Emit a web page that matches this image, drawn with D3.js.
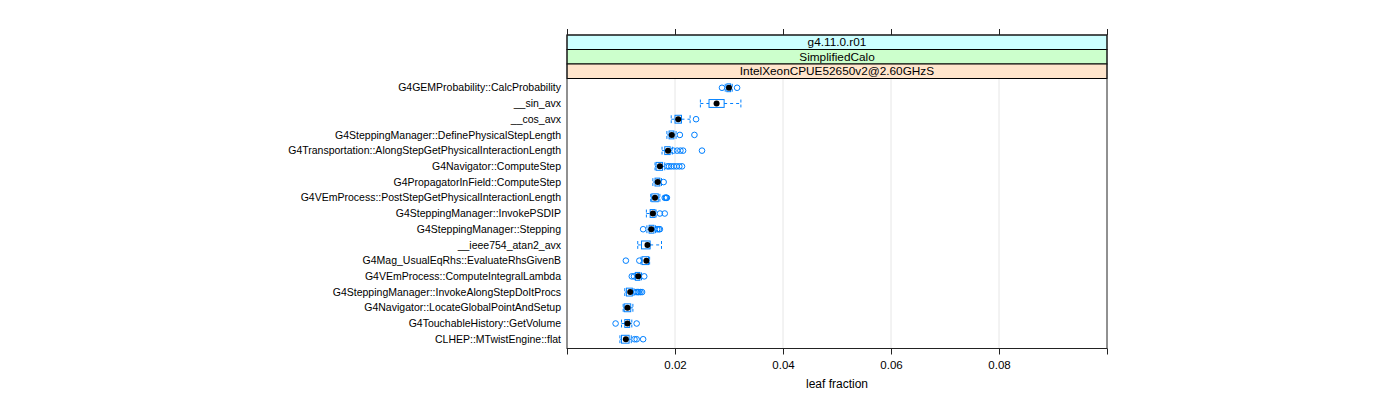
<!DOCTYPE html>
<html>
<head>
<meta charset="utf-8">
<script src="https://cdn.jsdelivr.net/npm/d3@7"></script>
<style>
  html, body { margin: 0; padding: 0; background: #fff; }
  svg { display: block; font-family: "Liberation Sans", Arial, Helvetica, sans-serif; }
</style>
</head>
<body>
<svg id="chart" width="1400" height="400"></svg>
<script>
// ---- data ----
const categories = [
  "G4GEMProbability::CalcProbability",
  "__sin_avx",
  "__cos_avx",
  "G4SteppingManager::DefinePhysicalStepLength",
  "G4Transportation::AlongStepGetPhysicalInteractionLength",
  "G4Navigator::ComputeStep",
  "G4PropagatorInField::ComputeStep",
  "G4VEmProcess::PostStepGetPhysicalInteractionLength",
  "G4SteppingManager::InvokePSDIP",
  "G4SteppingManager::Stepping",
  "__ieee754_atan2_avx",
  "G4Mag_UsualEqRhs::EvaluateRhsGivenB",
  "G4VEmProcess::ComputeIntegralLambda",
  "G4SteppingManager::InvokeAlongStepDoItProcs",
  "G4Navigator::LocateGlobalPointAndSetup",
  "G4TouchableHistory::GetVolume",
  "CLHEP::MTwistEngine::flat"
];
const whiskerLow  = [0.0293, 0.0247, 0.0193, 0.0185, 0.0176, 0.0163, 0.0159, 0.0155, 0.0147, 0.0148, 0.0131, 0.0137, 0.0126, 0.0107, 0.0104, 0.0101, 0.0098];
const q1          = [0.0296, 0.0263, 0.0200, 0.0189, 0.0181, 0.0165, 0.0163, 0.0157, 0.0154, 0.0152, 0.0138, 0.0139, 0.0127, 0.0110, 0.0106, 0.0107, 0.0101];
const medians     = [0.0300, 0.0277, 0.0206, 0.0194, 0.0187, 0.0172, 0.0168, 0.0163, 0.0159, 0.0156, 0.0149, 0.0147, 0.0132, 0.0117, 0.0112, 0.0112, 0.0109];
const q3          = [0.0303, 0.0291, 0.0212, 0.0198, 0.0191, 0.0177, 0.0172, 0.0169, 0.0163, 0.0161, 0.0154, 0.0151, 0.0135, 0.0121, 0.0118, 0.0116, 0.0115];
const whiskerHigh = [0.0306, 0.0322, 0.0228, 0.0202, 0.0195, 0.0181, 0.0175, 0.0172, 0.0165, 0.0164, 0.0175, 0.0153, 0.0138, 0.0124, 0.0122, 0.0120, 0.0119];
const outliers = [
  [0.0287, 0.0315],
  [],
  [0.0239],
  [0.0209, 0.0236],
  [0.0197, 0.0204, 0.0210, 0.0215, 0.0250],
  [0.0186, 0.0189, 0.0193, 0.0198, 0.0203, 0.0208, 0.0213],
  [0.0179],
  [0.0181, 0.0183, 0.0184, 0.0185],
  [0.0172, 0.0181],
  [0.0141, 0.0167, 0.0170, 0.0172],
  [],
  [0.0109, 0.0134],
  [0.0120, 0.0124, 0.0143],
  [0.0128, 0.0131, 0.0133, 0.0136, 0.0139],
  [],
  [0.0090, 0.0129],
  [0.0125, 0.0129, 0.0141]
];
const xTicks = [0.02, 0.04, 0.06, 0.08];
const xDomain = [0, 0.1];
const stripLabels = ["g4.11.0.r01", "SimplifiedCalo", "IntelXeonCPUE52650v2@2.60GHzS"];
const stripColors = ["#ccffff", "#ccffcc", "#ffe5cc"];
const xLabel = "leaf fraction";

// ---- layout ----
const L = 567, R = 1107;
const stripTop = 35, stripH = 14.5;
const panelTop = stripTop + stripH * stripLabels.length;
const panelBottom = 348.5;
const blue = "#0080ff";

const svg = d3.select("#chart");
const x = d3.scaleLinear().domain(xDomain).range([L, R]);
const y = d3.scalePoint().domain(categories).range([panelTop, panelBottom]).padding(0.59);
const boxH = y.step() * 0.5;

// grid lines
svg.append("g").selectAll("line").data(xTicks).join("line")
  .attr("x1", d => x(d)).attr("x2", d => x(d))
  .attr("y1", panelTop).attr("y2", panelBottom)
  .attr("stroke", "#e6e6e6").attr("stroke-width", 1);

// strips
const strips = svg.append("g");
stripLabels.forEach((s, i) => {
  strips.append("rect")
    .attr("x", L).attr("y", stripTop + i * stripH)
    .attr("width", R - L).attr("height", stripH)
    .attr("fill", stripColors[i]).attr("stroke", "#000").attr("stroke-width", 1);
  strips.append("text")
    .attr("x", (L + R) / 2).attr("y", stripTop + i * stripH + stripH / 2)
    .attr("dy", "0.36em").attr("text-anchor", "middle")
    .attr("font-size", 11.8).attr("fill", "#000").text(s);
});

// panel border
svg.append("rect").attr("x", L).attr("y", stripTop)
  .attr("width", R - L).attr("height", panelBottom - stripTop)
  .attr("fill", "none").attr("stroke", "#222").attr("stroke-width", 1);

// bottom axis
const bottomAxis = d3.axisBottom(x).tickValues([xDomain[0]].concat(xTicks, [xDomain[1]]))
  .tickSize(6).tickPadding(6)
  .tickFormat(d => xTicks.includes(d) ? d3.format(".2f")(d) : "");
const gb = svg.append("g").attr("transform", `translate(0,${panelBottom})`).call(bottomAxis);
gb.select(".domain").remove();
gb.selectAll(".tick line").attr("stroke", "#222");
gb.selectAll(".tick text").attr("font-size", 11.5).attr("fill", "#000")
  .attr("font-family", "Liberation Sans, Arial, sans-serif");

// top axis ticks
const topAxis = d3.axisTop(x).tickValues([xDomain[0]].concat(xTicks, [xDomain[1]]))
  .tickSize(6).tickFormat("");
const gt = svg.append("g").attr("transform", `translate(0,${stripTop})`).call(topAxis);
gt.select(".domain").remove();
gt.selectAll(".tick line").attr("stroke", "#222");

// y labels
svg.append("g").selectAll("text").data(categories).join("text")
  .attr("x", L - 6).attr("y", d => y(d)).attr("dy", "0.35em")
  .attr("text-anchor", "end").attr("font-size", 10.5).attr("fill", "#000")
  .text(d => d);

// x label
svg.append("text").attr("x", (L + R) / 2).attr("y", 388)
  .attr("text-anchor", "middle").attr("font-size", 12).attr("fill", "#000").text(xLabel);

// boxes
const g = svg.append("g");
categories.forEach((c, i) => {
  const cy = y(c);
  g.append("line").attr("x1", x(whiskerLow[i])).attr("x2", x(q1[i]))
    .attr("y1", cy).attr("y2", cy).attr("stroke", blue).attr("stroke-dasharray", "3,3");
  g.append("line").attr("x1", x(q3[i])).attr("x2", x(whiskerHigh[i]))
    .attr("y1", cy).attr("y2", cy).attr("stroke", blue).attr("stroke-dasharray", "3,3");
  [whiskerLow[i], whiskerHigh[i]].forEach(v => {
    g.append("line").attr("x1", x(v)).attr("x2", x(v))
      .attr("y1", cy - boxH / 2).attr("y2", cy + boxH / 2)
      .attr("stroke", blue).attr("stroke-dasharray", "3,2");
  });
  g.append("rect").attr("x", x(q1[i])).attr("y", cy - boxH / 2)
    .attr("width", x(q3[i]) - x(q1[i])).attr("height", boxH)
    .attr("fill", "none").attr("stroke", blue);
  outliers[i].forEach(v => {
    g.append("circle").attr("cx", x(v)).attr("cy", cy).attr("r", 2.8)
      .attr("fill", "none").attr("stroke", blue).attr("stroke-width", 1);
  });
  g.append("circle").attr("cx", x(medians[i])).attr("cy", cy).attr("r", 3)
    .attr("fill", "#000");
});
</script>
</body>
</html>
